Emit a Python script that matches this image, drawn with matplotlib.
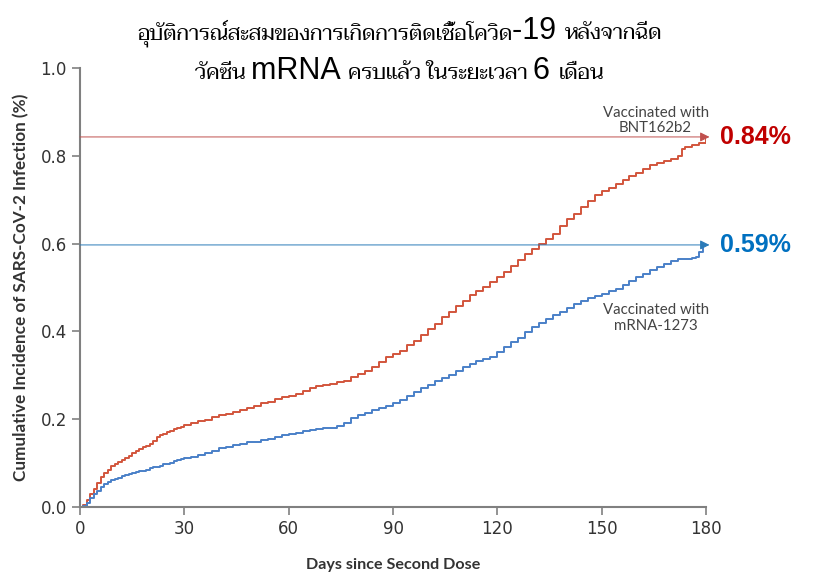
import matplotlib
matplotlib.use("Agg")
import matplotlib.pyplot as plt
from matplotlib.offsetbox import TextArea, HPacker, VPacker, AnchoredOffsetbox

# Datos (días desde la segunda dosis, incidencia acumulada %)
bnt_days = [0, 1, 2, 3, 4, 5, 6, 7, 8, 9, 10, 11, 12, 13, 14, 15, 16, 17, 18, 19,
            20, 21, 22, 23, 24, 25, 26, 27, 28, 29, 30, 32, 34, 36, 38, 40, 42, 44,
            46, 48, 50, 52, 54, 56, 58, 60, 62, 64, 66, 68, 70, 72, 74, 76, 78, 80,
            82, 84, 86, 88, 90, 92, 94, 96, 98, 100, 102, 104, 106, 108, 110, 112,
            114, 116, 118, 120, 122, 124, 126, 128, 130, 132, 134, 136, 138, 140,
            142, 144, 146, 148, 150, 152, 154, 156, 158, 160, 162, 164, 166, 168,
            170, 172, 173, 174, 176, 178, 180]
bnt_vals = [0.0, 0.005, 0.016, 0.03, 0.04, 0.055, 0.068, 0.077, 0.085, 0.093, 0.098,
            0.103, 0.108, 0.112, 0.117, 0.122, 0.128, 0.133, 0.137, 0.140, 0.143,
            0.150, 0.160, 0.164, 0.167, 0.170, 0.174, 0.177, 0.180, 0.183, 0.186,
            0.191, 0.195, 0.199, 0.204, 0.209, 0.212, 0.216, 0.221, 0.226, 0.231,
            0.236, 0.240, 0.245, 0.251, 0.253, 0.258, 0.265, 0.270, 0.275, 0.279,
            0.281, 0.284, 0.288, 0.295, 0.302, 0.310, 0.318, 0.330, 0.341, 0.348,
            0.356, 0.368, 0.379, 0.392, 0.405, 0.418, 0.432, 0.445, 0.457, 0.469,
            0.482, 0.492, 0.502, 0.512, 0.524, 0.536, 0.548, 0.563, 0.577, 0.588,
            0.598, 0.610, 0.623, 0.640, 0.655, 0.668, 0.683, 0.697, 0.710, 0.719,
            0.727, 0.735, 0.744, 0.753, 0.762, 0.771, 0.778, 0.784, 0.788, 0.792,
            0.800, 0.815, 0.819, 0.825, 0.830, 0.838]

mrna_days = [0, 1, 2, 3, 4, 5, 6, 7, 8, 9, 10, 11, 12, 13, 14, 15, 16, 17, 18, 19,
             20, 21, 22, 23, 24, 25, 26, 27, 28, 29, 30, 32, 34, 36, 38, 40, 42, 44,
             46, 48, 50, 52, 54, 56, 58, 60, 62, 64, 66, 68, 70, 72, 74, 76, 78, 80,
             82, 84, 86, 88, 90, 92, 94, 96, 98, 100, 102, 104, 106, 108, 110, 112,
             114, 116, 118, 120, 122, 124, 126, 128, 130, 132, 134, 136, 138, 140,
             142, 144, 146, 148, 150, 152, 154, 156, 158, 160, 162, 164, 166, 168,
             170, 172, 174, 176, 177, 178, 179]
mrna_vals = [0.0, 0.003, 0.01, 0.02, 0.03, 0.037, 0.045, 0.052, 0.057, 0.061, 0.064,
             0.067, 0.070, 0.072, 0.075, 0.077, 0.079, 0.081, 0.083, 0.085, 0.088,
             0.090, 0.092, 0.094, 0.097, 0.099, 0.101, 0.104, 0.107, 0.109, 0.111,
             0.115, 0.119, 0.123, 0.128, 0.134, 0.137, 0.141, 0.144, 0.147, 0.149,
             0.152, 0.155, 0.159, 0.163, 0.166, 0.169, 0.172, 0.175, 0.178, 0.179,
             0.181, 0.184, 0.192, 0.202, 0.209, 0.215, 0.220, 0.225, 0.230, 0.236,
             0.243, 0.252, 0.261, 0.271, 0.279, 0.287, 0.294, 0.301, 0.310, 0.318,
             0.326, 0.332, 0.337, 0.342, 0.353, 0.364, 0.375, 0.386, 0.398, 0.410,
             0.420, 0.428, 0.437, 0.445, 0.454, 0.462, 0.470, 0.476, 0.481, 0.486,
             0.491, 0.497, 0.506, 0.515, 0.523, 0.531, 0.539, 0.546, 0.553, 0.560,
             0.564, 0.566, 0.567, 0.569, 0.580, 0.590]

bnt_final = 0.843
mrna_final = 0.597
x_ticks = [0, 30, 60, 90, 120, 150, 180]
y_ticks = [0.0, 0.2, 0.4, 0.6, 0.8, 1.0]

red_line = "#d2553c"
blue_line = "#4a80c8"
red_txt = "#c00000"
blue_txt = "#0070c0"
gray = "#808080"

fig = plt.figure(figsize=(8.24, 5.76), dpi=100)
ax = fig.add_axes([0.0971, 0.1198, 0.7597, 0.7621])

ax.step(bnt_days, bnt_vals, where="post", color=red_line, lw=1.4)
ax.step(mrna_days, mrna_vals, where="post", color=blue_line, lw=1.4)

# Líneas de referencia con flecha
ax.annotate("", xy=(181, bnt_final), xytext=(0, bnt_final),
            arrowprops=dict(arrowstyle="-|>", color="#c0504d", lw=0.7,
                            mutation_scale=14, shrinkA=0, shrinkB=0),
            annotation_clip=False)
ax.annotate("", xy=(181, mrna_final), xytext=(0, mrna_final),
            arrowprops=dict(arrowstyle="-|>", color="#2a7ab8", lw=0.7,
                            mutation_scale=14, shrinkA=0, shrinkB=0),
            annotation_clip=False)

ax.text(184, bnt_final, "0.84%", color=red_txt, fontsize=18, fontweight="bold",
        family="Liberation Sans", va="center", ha="left", clip_on=False)
ax.text(184, mrna_final, "0.59%", color=blue_txt, fontsize=18, fontweight="bold",
        family="Liberation Sans", va="center", ha="left", clip_on=False)

ax.text(165.5, 0.847, "Vaccinated with\nBNT162b2", ha="center", va="bottom",
        fontsize=10.8, family="Lato", color="#444444", linespacing=1.15)
ax.text(165.5, 0.465, "Vaccinated with\nmRNA-1273", ha="center", va="top",
        fontsize=10.8, family="Lato", color="#444444", linespacing=1.15)

ax.set_xlim(0, 180)
ax.set_ylim(0, 1.0)
ax.set_xticks(x_ticks)
ax.set_yticks(y_ticks)
ax.set_yticklabels([f"{v:.1f}" for v in y_ticks])
for s in ["top", "right"]:
    ax.spines[s].set_visible(False)
for s in ["left", "bottom"]:
    ax.spines[s].set_color(gray)
    ax.spines[s].set_linewidth(1.5)
ax.tick_params(colors=gray, width=1.2, length=6, labelcolor="#333333", labelsize=12)
for lab in ax.get_xticklabels() + ax.get_yticklabels():
    lab.set_family("Liberation Sans Narrow")

ax.set_xlabel("Days since Second Dose", fontsize=11.6, fontweight="bold",
              family="Lato", color="#333333", labelpad=14)
ax.set_ylabel("Cumulative Incidence of SARS-CoV-2 Infection (%)", fontsize=12.3,
              fontweight="bold", family="Lato", color="#333333", labelpad=8)

# Título en tailandés con partes latinas en Arial
thai = dict(family="Taviraj", size=15.3, color="black")
lat = dict(family="Liberation Sans", size=22, color="black")
line1 = HPacker(children=[TextArea("อุบัติการณ์สะสมของการเกิดการติดเชื้อโควิด", textprops=thai),
                          TextArea("-19 ", textprops=lat),
                          TextArea("หลังจากฉีด", textprops=thai)],
                align="baseline", pad=0, sep=0)
line2 = HPacker(children=[TextArea("วัคซีน ", textprops=thai),
                          TextArea("mRNA ", textprops=lat),
                          TextArea("ครบแล้ว ในระยะเวลา ", textprops=thai),
                          TextArea("6 ", textprops=lat),
                          TextArea("เดือน", textprops=thai)],
                align="baseline", pad=0, sep=0)
title = VPacker(children=[line1, line2], align="center", pad=0, sep=7)
box = AnchoredOffsetbox(loc="upper center", child=title, pad=0, frameon=False,
                        bbox_to_anchor=(0.485, 0.972), bbox_transform=fig.transFigure,
                        borderpad=0)
ax.add_artist(box)

fig.savefig("out.png", dpi=100)
